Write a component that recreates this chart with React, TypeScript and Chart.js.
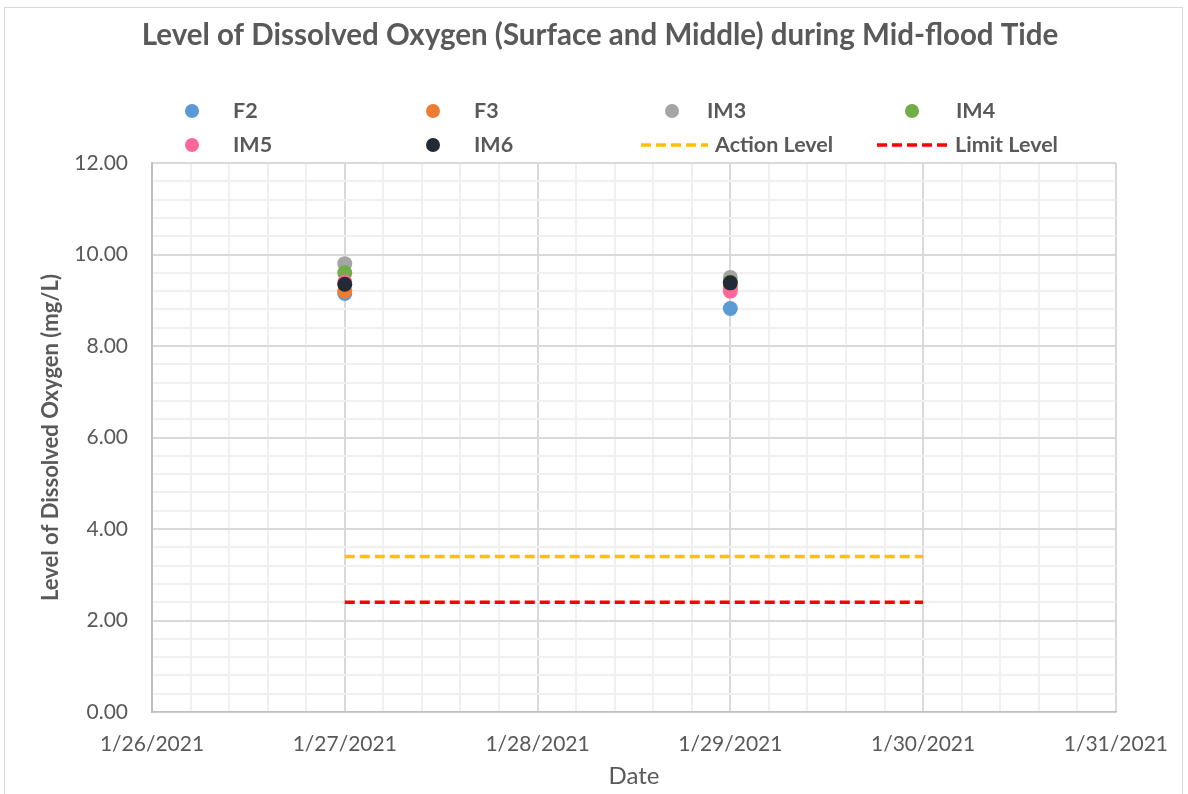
import React, { useEffect, useRef } from "react";
import { Chart, registerables } from "chart.js";

Chart.register(...registerables);

// ---- data ----
const sampleDays = [27, 29]; // day of January 2021
const f2Values = [9.15, 8.82];
const f3Values = [9.2, 9.27];
const im3Values = [9.8, 9.5];
const im4Values = [9.6, 9.4];
const im5Values = [9.4, 9.2];
const im6Values = [9.35, 9.38];
const levelDays = [27, 30];
const actionLevel = [3.4, 3.4];
const limitLevel = [2.4, 2.4];
const xTickDays = [26, 27, 28, 29, 30, 31];
const yMajorTicks = [0, 2, 4, 6, 8, 10, 12];

const TITLE = "Level of Dissolved Oxygen (Surface and Middle) during Mid-flood Tide";
const FONT = "Lato, 'DejaVu Sans', sans-serif";
const TEXT = "#595959";

type Item = { label: string; color: string; kind: "dot" | "dash" };
const legendItems: Item[] = [
  { label: "F2", color: "#5B9BD5", kind: "dot" },
  { label: "F3", color: "#ED7D31", kind: "dot" },
  { label: "IM3", color: "#A5A5A5", kind: "dot" },
  { label: "IM4", color: "#70AD47", kind: "dot" },
  { label: "IM5", color: "#FF6699", kind: "dot" },
  { label: "IM6", color: "#222A35", kind: "dot" },
  { label: "Action Level", color: "#FFC000", kind: "dash" },
  { label: "Limit Level", color: "#FF0000", kind: "dash" },
];

const pts = (xs: number[], ys: number[]) => xs.map((x, i) => ({ x, y: ys[i] }));
const near = (v: number, step: number) => Math.abs(v / step - Math.round(v / step)) < 1e-6;

const decor = {
  id: "decor",
  beforeDraw(chart: any) {
    const ctx = chart.ctx;
    ctx.save();
    ctx.fillStyle = "#ffffff";
    ctx.fillRect(0, 0, chart.width, chart.height);
    ctx.restore();
  },
  afterDraw(chart: any) {
    const ctx = chart.ctx;
    ctx.save();
    // outer border
    ctx.strokeStyle = "#d9d9d9";
    ctx.lineWidth = 1;
    ctx.strokeRect(4.5, 7.5, 1178, 790);
    // title
    ctx.fillStyle = TEXT;
    ctx.font = `bold 29.5px ${FONT}`;
    ctx.textAlign = "center";
    ctx.textBaseline = "middle";
    ctx.fillText(TITLE, 600, 35);
    // legend
    const markX = [192, 433, 672, 912];
    const textX = [233, 474, 707, 956];
    const lineX = [[641, 708], [877, 948]];
    const rows = [111, 145];
    ctx.font = `bold 21.5px ${FONT}`;
    ctx.textAlign = "left";
    legendItems.forEach((it, i) => {
      const r = Math.floor(i / 4);
      const c = i % 4;
      const y = rows[r];
      if (it.kind === "dot") {
        ctx.fillStyle = it.color;
        ctx.beginPath();
        ctx.arc(markX[c], y, 7, 0, Math.PI * 2);
        ctx.fill();
        ctx.fillStyle = TEXT;
        ctx.fillText(it.label, textX[c], y);
      } else {
        const [a, b] = lineX[c - 2];
        ctx.strokeStyle = it.color;
        ctx.lineWidth = 3.5;
        ctx.setLineDash([10, 5]);
        ctx.beginPath();
        ctx.moveTo(a, y);
        ctx.lineTo(b, y);
        ctx.stroke();
        ctx.setLineDash([]);
        ctx.fillStyle = TEXT;
        ctx.fillText(it.label, b + 7, y);
      }
    });
    ctx.restore();
  },
};

export default function App() {
  const ref = useRef<HTMLCanvasElement | null>(null);
  useEffect(() => {
    document.body.style.margin = "0";
    if (!ref.current) return;
    const dot = (label: string, data: number[], color: string, order: number) => ({
      type: "scatter" as const,
      label,
      data: pts(sampleDays, data),
      backgroundColor: color,
      borderColor: color,
      pointRadius: 7.5,
      pointBorderWidth: 0,
      order,
    });
    const level = (label: string, data: number[], color: string, order: number) => ({
      type: "line" as const,
      label,
      data: pts(levelDays, data),
      borderColor: color,
      backgroundColor: color,
      borderWidth: 3.5,
      borderDash: [10, 5],
      pointRadius: 0,
      showLine: true,
      fill: false,
      order,
    });
    const chart = new Chart(ref.current, {
      type: "scatter",
      data: {
        datasets: [
          dot("F2", f2Values, legendItems[0].color, 6),
          dot("F3", f3Values, legendItems[1].color, 5),
          dot("IM3", im3Values, legendItems[2].color, 4),
          dot("IM4", im4Values, legendItems[3].color, 3),
          dot("IM5", im5Values, legendItems[4].color, 2),
          dot("IM6", im6Values, legendItems[5].color, 1),
          level("Action Level", actionLevel, legendItems[6].color, 7),
          level("Limit Level", limitLevel, legendItems[7].color, 8),
        ] as any,
      },
      options: {
        responsive: false,
        animation: false,
        layout: { padding: { left: 0, right: 71, top: 163, bottom: 0 } },
        plugins: { legend: { display: false }, title: { display: false }, tooltip: { enabled: false } },
        scales: {
          x: {
            type: "linear",
            min: xTickDays[0],
            max: xTickDays[xTickDays.length - 1],
            afterFit: (s: any) => { s.height = 82; },
            border: { display: true, color: "#bfbfbf", width: 1.5 },
            grid: {
              drawTicks: false,
              color: (c: any) => (near(c.tick.value, 1) ? "#d9d9d9" : "#f0f0f0"),
              lineWidth: 2,
            },
            ticks: {
              stepSize: 0.2,
              autoSkip: false,
              maxRotation: 0,
              padding: 20,
              color: TEXT,
              font: { family: FONT, size: 21 },
              callback: (v: any) => (near(v, 1) && xTickDays.includes(Math.round(v)) ? `1/${Math.round(v)}/2021` : ""),
            },
            title: {
              display: true,
              text: "Date",
              color: TEXT,
              font: { family: FONT, size: 24 },
              padding: { top: 0, bottom: 3 },
            },
          },
          y: {
            type: "linear",
            min: yMajorTicks[0],
            max: yMajorTicks[yMajorTicks.length - 1],
            afterFit: (s: any) => { s.width = 152; },
            border: { display: true, color: "#bfbfbf", width: 2 },
            grid: {
              drawTicks: false,
              color: (c: any) => (near(c.tick.value, 2) ? "#d9d9d9" : "#f0f0f0"),
              lineWidth: 2,
            },
            ticks: {
              stepSize: 0.4,
              autoSkip: false,
              padding: 24,
              color: TEXT,
              font: { family: FONT, size: 21 },
              callback: (v: any) => (near(v, 2) ? Number(v).toFixed(2) : ""),
            },
            title: {
              display: true,
              text: "Level of Dissolved Oxygen (mg/L)",
              color: TEXT,
              font: { family: FONT, size: 22, weight: "bold" },
              padding: { top: 38, bottom: 0 },
            },
          },
        },
      },
      plugins: [decor],
    });
    return () => chart.destroy();
  }, []);
  return (
    <div style={{ width: 1188, height: 794 }}>
      <canvas ref={ref} width={1188} height={794} style={{ display: "block" }} />
    </div>
  );
}
